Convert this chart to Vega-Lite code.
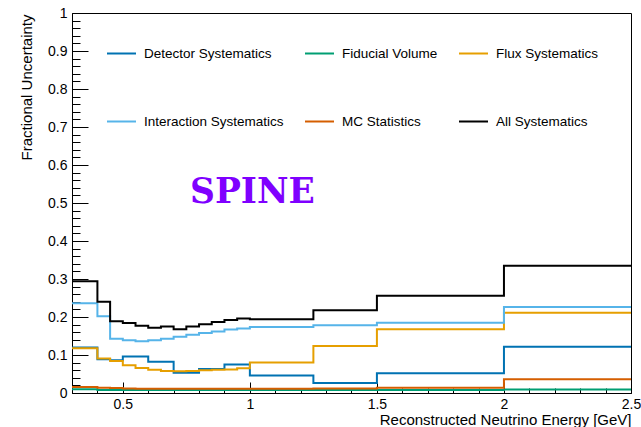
{
  "$schema": "https://vega.github.io/schema/vega-lite/v6.json",
  "width": 559,
  "height": 380,
  "autosize": {"type": "none"},
  "padding": {"left": 72, "top": 13, "right": 10, "bottom": 34},
  "background": "white",
  "config": {
    "font": "Liberation Sans",
    "view": {"stroke": "#000000", "strokeWidth": 1},
    "axis": {"grid": false, "domainColor": "#000000", "tickColor": "#000000", "labelColor": "#000000", "titleColor": "#000000", "titleFontWeight": "normal", "labelFont": "Liberation Sans", "titleFont": "Liberation Sans"}
  },
  "layer": [
    {
      "data": {"values": [
        {"E": 0.3, "Detector Systematics": 0.120, "Fiducial Volume": 0.010, "Flux Systematics": 0.118, "Interaction Systematics": 0.236, "MC Statistics": 0.016, "All Systematics": 0.294},
        {"E": 0.4, "Detector Systematics": 0.089, "Fiducial Volume": 0.008, "Flux Systematics": 0.091, "Interaction Systematics": 0.202, "MC Statistics": 0.014, "All Systematics": 0.240},
        {"E": 0.45, "Detector Systematics": 0.086, "Fiducial Volume": 0.008, "Flux Systematics": 0.084, "Interaction Systematics": 0.143, "MC Statistics": 0.013, "All Systematics": 0.189},
        {"E": 0.5, "Detector Systematics": 0.096, "Fiducial Volume": 0.008, "Flux Systematics": 0.073, "Interaction Systematics": 0.139, "MC Statistics": 0.012, "All Systematics": 0.184},
        {"E": 0.55, "Detector Systematics": 0.096, "Fiducial Volume": 0.008, "Flux Systematics": 0.066, "Interaction Systematics": 0.136, "MC Statistics": 0.011, "All Systematics": 0.177},
        {"E": 0.6, "Detector Systematics": 0.082, "Fiducial Volume": 0.008, "Flux Systematics": 0.061, "Interaction Systematics": 0.139, "MC Statistics": 0.011, "All Systematics": 0.172},
        {"E": 0.65, "Detector Systematics": 0.082, "Fiducial Volume": 0.008, "Flux Systematics": 0.058, "Interaction Systematics": 0.143, "MC Statistics": 0.011, "All Systematics": 0.175},
        {"E": 0.7, "Detector Systematics": 0.053, "Fiducial Volume": 0.008, "Flux Systematics": 0.057, "Interaction Systematics": 0.148, "MC Statistics": 0.011, "All Systematics": 0.168},
        {"E": 0.75, "Detector Systematics": 0.053, "Fiducial Volume": 0.008, "Flux Systematics": 0.058, "Interaction Systematics": 0.153, "MC Statistics": 0.011, "All Systematics": 0.175},
        {"E": 0.8, "Detector Systematics": 0.063, "Fiducial Volume": 0.008, "Flux Systematics": 0.060, "Interaction Systematics": 0.158, "MC Statistics": 0.011, "All Systematics": 0.181},
        {"E": 0.85, "Detector Systematics": 0.063, "Fiducial Volume": 0.008, "Flux Systematics": 0.061, "Interaction Systematics": 0.162, "MC Statistics": 0.011, "All Systematics": 0.187},
        {"E": 0.9, "Detector Systematics": 0.075, "Fiducial Volume": 0.008, "Flux Systematics": 0.062, "Interaction Systematics": 0.167, "MC Statistics": 0.011, "All Systematics": 0.192},
        {"E": 0.95, "Detector Systematics": 0.075, "Fiducial Volume": 0.008, "Flux Systematics": 0.065, "Interaction Systematics": 0.170, "MC Statistics": 0.011, "All Systematics": 0.196},
        {"E": 1.0, "Detector Systematics": 0.046, "Fiducial Volume": 0.008, "Flux Systematics": 0.080, "Interaction Systematics": 0.174, "MC Statistics": 0.011, "All Systematics": 0.194},
        {"E": 1.25, "Detector Systematics": 0.026, "Fiducial Volume": 0.008, "Flux Systematics": 0.124, "Interaction Systematics": 0.178, "MC Statistics": 0.012, "All Systematics": 0.218},
        {"E": 1.5, "Detector Systematics": 0.052, "Fiducial Volume": 0.008, "Flux Systematics": 0.168, "Interaction Systematics": 0.185, "MC Statistics": 0.014, "All Systematics": 0.256},
        {"E": 2.0, "Detector Systematics": 0.122, "Fiducial Volume": 0.009, "Flux Systematics": 0.211, "Interaction Systematics": 0.226, "MC Statistics": 0.036, "All Systematics": 0.335},
        {"E": 2.5, "Detector Systematics": 0.122, "Fiducial Volume": 0.009, "Flux Systematics": 0.211, "Interaction Systematics": 0.226, "MC Statistics": 0.036, "All Systematics": 0.335}
      ]},
      "transform": [
        {"fold": ["Detector Systematics", "Fiducial Volume", "Flux Systematics", "Interaction Systematics", "MC Statistics", "All Systematics"], "as": ["series", "u"]}
      ],
      "mark": {"type": "line", "interpolate": "step-after", "strokeWidth": 2},
      "encoding": {
        "x": {
          "field": "E", "type": "quantitative",
          "scale": {"domain": [0.3, 2.5], "nice": false, "zero": false},
          "axis": {
            "values": [0.4, 0.5, 0.6, 0.7, 0.8, 0.9, 1.0, 1.1, 1.2, 1.3, 1.4, 1.5, 1.6, 1.7, 1.8, 1.9, 2.0, 2.1, 2.2, 2.3, 2.4, 2.5],
            "tickCount": 200,
            "format": "~g",
            "labelExpr": "abs(datum.value*2 - round(datum.value*2)) < 0.001 ? datum.label : ''",
            "tickSize": {"condition": {"test": "abs(datum.value*2 - round(datum.value*2)) < 0.001", "value": -11}, "value": -5},
            "labelFlush": false, "labelOverlap": false, "labelBound": false,
            "labelFontSize": 14, "labelPadding": 15.5,
            "title": "Reconstructed Neutrino Energy [GeV]",
            "titleFontSize": 15, "titleAnchor": "end", "titleAlign": "right", "titleBaseline": "alphabetic",
            "titleX": 559, "titleY": 31
          }
        },
        "y": {
          "field": "u", "type": "quantitative",
          "scale": {"domain": [0, 1], "nice": false},
          "axis": {
            "values": [0, 0.02, 0.04, 0.06, 0.08, 0.1, 0.12, 0.14, 0.16, 0.18, 0.2, 0.22, 0.24, 0.26, 0.28, 0.3, 0.32, 0.34, 0.36, 0.38, 0.4, 0.42, 0.44, 0.46, 0.48, 0.5, 0.52, 0.54, 0.56, 0.58, 0.6, 0.62, 0.64, 0.66, 0.68, 0.7, 0.72, 0.74, 0.76, 0.78, 0.8, 0.82, 0.84, 0.86, 0.88, 0.9, 0.92, 0.94, 0.96, 0.98, 1],
            "tickCount": 200,
            "format": "~g",
            "labelExpr": "abs(datum.value*10 - round(datum.value*10)) < 0.001 ? datum.label : ''",
            "tickSize": {"condition": {"test": "abs(datum.value*10 - round(datum.value*10)) < 0.001", "value": -16}, "value": -8},
            "labelOverlap": false, "labelBound": false, "labelFlush": false,
            "labelFontSize": 14, "labelPadding": 21,
            "title": "Fractional Uncertainty",
            "titleFontSize": 15, "titleAngle": 270, "titleAlign": "right", "titleBaseline": "alphabetic",
            "titleX": -41, "titleY": 1
          }
        },
        "color": {
          "field": "series", "type": "nominal",
          "scale": {
            "domain": ["Detector Systematics", "Interaction Systematics", "Fiducial Volume", "MC Statistics", "Flux Systematics", "All Systematics"],
            "range": ["#0072B2", "#56B4E9", "#009E73", "#D55E00", "#E69F00", "#000000"]
          },
          "legend": {
            "orient": "none", "legendX": 34, "legendY": 25, "columns": 3, "columnPadding": 17, "rowPadding": 46,
            "symbolType": "stroke", "symbolSize": 841, "symbolStrokeWidth": 2,
            "labelFontSize": 13.5, "labelOffset": 7, "labelFont": "Liberation Sans", "labelColor": "#000000",
            "title": null, "padding": 0, "labelLimit": 300
          }
        }
      }
    },
    {
      "data": {"values": [{"label": "SPINE", "E": 1.01, "u": 0.5}]},
      "mark": {"type": "text", "font": "DejaVu Serif", "fontWeight": "bold", "fontSize": 34.5, "color": "#7f00ff", "align": "center", "baseline": "alphabetic"},
      "encoding": {
        "x": {"field": "E", "type": "quantitative"},
        "y": {"field": "u", "type": "quantitative"},
        "text": {"field": "label"}
      }
    }
  ]
}
